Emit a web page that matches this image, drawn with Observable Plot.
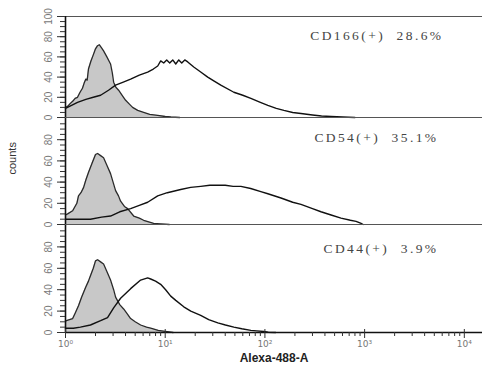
<!DOCTYPE html>
<html><head><meta charset="utf-8">
<script src="https://cdn.jsdelivr.net/npm/d3@7"></script>
<script src="https://cdn.jsdelivr.net/npm/@observablehq/plot@0.6"></script>
<style>
body{margin:0;background:#fff}
#chart svg{display:block}
g[font-family="Liberation Serif"] text{letter-spacing:2.4px}
</style>
</head><body><div id="chart"></div>
<script>
// ---- data ----
const markers = ["CD166", "CD54", "CD44"];
const positivePct = [28.6, 35.1, 3.9];
const xTickValues = [1, 10, 100, 1000, 10000];
const xTickLabels = ["10\u2070", "10\u00b9", "10\u00b2", "10\u00b3", "10\u2074"];
const yTickValuesTop = [0, 20, 40, 60, 80, 100];
const yTickValues = [0, 20, 40, 60, 80];
const yMinorTicks = d3.range(0, 101, 5);
const xMinorTicks = [1, 10, 100, 1000].flatMap(d => [2,3,4,5,6,7,8,9].map(k => k * d));

// isotype control (grey filled) and stained sample (black line): [fluorescence, counts]
const controlCD166 = [[1.00,10],[1.05,11],[1.12,14],[1.18,16],[1.25,19],[1.32,20],[1.40,25],[1.48,29],[1.55,35],[1.60,38],[1.65,37],[1.70,48],[1.80,56],[1.90,62],[2.00,68],[2.09,71],[2.19,72],[2.30,69],[2.41,66],[2.60,60],[2.83,53],[2.95,44],[3.04,35],[3.20,30],[3.41,27],[3.70,22],[4.01,17],[4.40,13],[4.71,10],[5.30,7],[6.08,5],[7.00,3],[8.41,2],[10,1],[11.4,0.5],[14,0]];
const sampleCD166 = [[1.00,9],[1.15,12],[1.32,15],[1.60,18],[1.90,20],[2.25,22],[2.70,27],[3.18,32],[3.80,35],[4.50,38],[5.50,42],[6.67,45],[7.60,48],[8.41,51],[9.01,56],[9.66,54],[10.35,57],[11.10,54],[11.90,57],[12.76,53],[13.67,57],[14.65,54],[15.71,57],[16.83,55],[19.34,50],[22.7,45],[26.7,40],[31,36],[36.1,32],[48.8,25],[60,22],[72.3,19],[90,15],[107,12],[130,9],[155,7],[190,5],[230,4],[300,2.5],[370,1.5],[460,1],[600,0.5],[800,0]];
const controlCD54 = [[1.00,9],[1.05,10],[1.18,13],[1.30,20],[1.35,27],[1.43,30],[1.52,35],[1.60,42],[1.70,49],[1.85,58],[2.00,66],[2.10,67],[2.25,65],[2.41,63],[2.60,56],[2.83,48],[3.00,40],[3.18,32],[3.40,27],[3.57,22],[3.90,17],[4.20,15],[4.83,8],[5.5,6],[6.08,4],[7.66,1],[9,0.5],[11,0]];
const sampleCD54 = [[1.00,5],[1.3,5],[1.78,5],[2.3,7],[2.83,8],[3.5,12],[4.5,15],[5.5,18],[6.67,21],[8.41,27],[10.5,30],[14.3,33],[18,35],[22.7,36],[28,37],[33.7,37],[40,37],[48,36],[57.4,36],[72,34],[91,31],[107,29],[145,25],[190,21],[230,19],[300,15],[365,12],[461,9],[580,6],[720,4],[821,3],[922,1],[966,0]];
const controlCD44 = [[1.00,11],[1.02,11],[1.18,13],[1.25,18],[1.35,25],[1.45,33],[1.59,42],[1.70,48],[1.78,53],[1.90,60],[2.00,67],[2.10,68],[2.25,66],[2.41,64],[2.60,57],[2.83,49],[3.04,40],[3.18,33],[3.50,26],[3.83,22],[4.20,17],[4.50,13],[5.0,10],[5.67,7],[6.5,5],[7.15,4],[8.5,2],[10,1],[12,0]];
const sampleCD44 = [[1.00,4],[1.2,4],[1.41,5],[1.78,7],[2.25,11],[2.64,14],[3.04,23],[3.57,32],[4.5,41],[5.67,49],[6.67,51],[7.15,50],[8.0,48],[9.0,45],[10.1,40],[11.36,34],[12.76,30],[15.35,24],[18.05,20],[22.7,16],[27.3,12],[33.7,9],[40.2,7],[48.8,5],[58.6,3.5],[72.3,2],[82.8,1.5],[97.7,1],[108,0.3],[128,0]];

const controls = [controlCD166, controlCD54, controlCD44];
const samples = [sampleCD166, sampleCD54, sampleCD44];

// ---- layout ----
const layout = [
  {height: 118, marginTop: 16, marginBottom: 1, labelDx: -39, labelDy: 14},
  {height: 107, marginTop: 0, marginBottom: 1, labelDx: -44, labelDy: 14},
  {height: 142, marginTop: 0, marginBottom: 35, labelDx: -44, labelDy: 18}
];

function panel(i) {
  const L = layout[i];
  const isLast = i === 2;
  const marks = [
    Plot.areaY(controls[i], {x: d => d[0], y: d => d[1], fill: "#c8c8c8"}),
    Plot.lineY(controls[i], {x: d => d[0], y: d => d[1], stroke: "#2a2a2a", strokeWidth: 1.3}),
    Plot.lineY(samples[i], {x: d => d[0], y: d => d[1], stroke: "#111", strokeWidth: 1.4}),
    Plot.ruleY([0], {stroke: isLast ? "#111" : "#555", strokeWidth: isLast ? 1.5 : 1.2}),
    Plot.ruleX([1], {stroke: "#111", strokeWidth: 1.6}),
    Plot.axisY({ticks: yMinorTicks.filter(d => i === 0 || d < 100), tickSize: 5, text: null, stroke: "#333"}),
    Plot.axisY({ticks: i === 0 ? yTickValuesTop : yTickValues, tickSize: 8, tickRotate: -90, tickPadding: 6,
      fontSize: 10, fill: "#777", stroke: "#333", fontFamily: "Liberation Sans"}),
    Plot.text([`${markers[i]}(+)  ${positivePct[i].toFixed(1)}%`], {
      frameAnchor: "top-right", textAnchor: "end", dx: L.labelDx, dy: L.labelDy,
      fontFamily: "Liberation Serif", fontSize: 13.5, fill: "#444"})
  ];
  if (i === 0) marks.unshift(Plot.ruleY([100], {stroke: "#555", strokeWidth: 1}));
  if (i === 1) marks.push(Plot.text(["counts"], {frameAnchor: "left", dx: -53, dy: 3,
      rotate: -90, fontFamily: "Liberation Sans", fontSize: 11, fill: "#333"}));
  if (isLast) {
    marks.push(
      Plot.axisX({ticks: xMinorTicks, tickSize: 4, text: null, stroke: "#333"}),
      Plot.axisX({ticks: xTickValues, tickSize: -3, text: null, stroke: "#333"}),
      Plot.axisX({ticks: xTickValues, tickSize: 6, tickPadding: 2, stroke: "#333",
        tickFormat: d => xTickLabels[xTickValues.indexOf(d)], fontSize: 9, fill: "#777",
        fontFamily: "DejaVu Sans"}),
      Plot.text(["Alexa-488-A"], {frameAnchor: "bottom", dy: 29, fontWeight: "bold",
        fontSize: 12, fontFamily: "Liberation Sans", fill: "#222"})
    );
  }
  return Plot.plot({
    width: 482, height: L.height,
    marginLeft: 65, marginRight: 0, marginTop: L.marginTop, marginBottom: L.marginBottom,
    style: {overflow: "visible", background: "transparent"},
    x: {type: "log", domain: [1, 15220], axis: isLast ? undefined : null, nice: false},
    y: {domain: [0, 100]},
    marks
  });
}

const chart = document.getElementById("chart");
for (let i = 0; i < 3; i++) chart.appendChild(panel(i));
</script>
</body></html>
